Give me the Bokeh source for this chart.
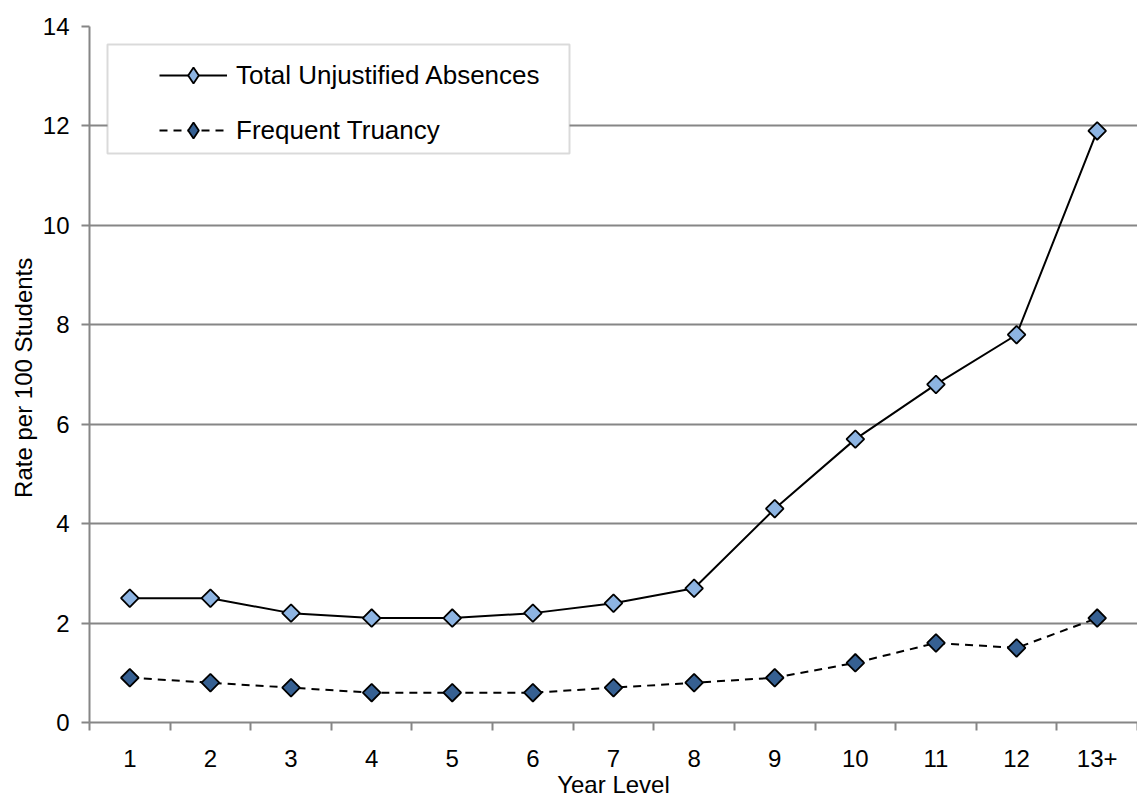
from bokeh.plotting import figure
from bokeh.models import (Range1d, FixedTicker, Legend, LegendItem, BoxAnnotation)
from bokeh.embed import file_html
from bokeh.resources import INLINE
import math

# ---- data ----
year_levels = ["1", "2", "3", "4", "5", "6", "7", "8", "9", "10", "11", "12", "13+"]
total_unjustified = [2.5, 2.5, 2.2, 2.1, 2.1, 2.2, 2.4, 2.7, 4.3, 5.7, 6.8, 7.8, 11.9]
frequent_truancy = [0.9, 0.8, 0.7, 0.6, 0.6, 0.6, 0.7, 0.8, 0.9, 1.2, 1.6, 1.5, 2.1]
y_ticks = [0, 2, 4, 6, 8, 10, 12, 14]
series_names = ["Total Unjustified Absences", "Frequent Truancy"]

x_pos = list(range(1, len(year_levels) + 1))

GRID = "#868686"
FONT = "Liberation Sans"
LIGHT = "#8DB4E2"
DARK = "#366092"

p = figure(width=1137, height=800, output_backend="svg", toolbar_location=None,
           x_range=Range1d(0.5, len(year_levels) + 0.5), y_range=Range1d(y_ticks[0], y_ticks[-1]),
           min_border_left=89, min_border_right=0, min_border_top=26, min_border_bottom=77)
p.outline_line_color = None
p.background_fill_color = "white"
p.border_fill_color = "white"

# axes
p.xaxis.ticker = FixedTicker(ticks=x_pos, minor_ticks=[i + 0.5 for i in range(0, len(year_levels) + 1)])
p.xaxis.major_label_overrides = {i: lab for i, lab in zip(x_pos, year_levels)}
p.xaxis.major_tick_out = 0
p.xaxis.major_tick_in = 0
p.xaxis.minor_tick_out = 8
p.xaxis.minor_tick_in = 0
p.xaxis.minor_tick_line_color = GRID
p.xaxis.minor_tick_line_width = 2
p.xaxis.axis_line_color = GRID
p.xaxis.axis_line_width = 2
p.xaxis.major_label_standoff = 19
p.xaxis.axis_label = "Year Level"
p.xaxis.axis_label_standoff = 1

p.yaxis.ticker = FixedTicker(ticks=y_ticks, minor_ticks=[])
p.yaxis.major_tick_out = 8
p.yaxis.major_tick_in = 0
p.yaxis.major_tick_line_color = GRID
p.yaxis.major_tick_line_width = 2
p.yaxis.axis_line_color = GRID
p.yaxis.axis_line_width = 2
p.yaxis.major_label_standoff = 12
p.yaxis.axis_label = "Rate per 100  Students"
p.yaxis.axis_label_standoff = 3

for ax in (p.xaxis, p.yaxis):
    ax.major_label_text_font = FONT
    ax.major_label_text_font_size = "24px"
    ax.major_label_text_color = "black"
    ax.axis_label_text_font = FONT
    ax.axis_label_text_font_size = "24px"
    ax.axis_label_text_font_style = "normal"
    ax.axis_label_text_color = "black"

p.xgrid.grid_line_color = None
p.ygrid.grid_line_color = GRID
p.ygrid.grid_line_width = 2
p.ygrid.ticker = FixedTicker(ticks=y_ticks)

# series
l1 = p.line(x_pos, total_unjustified, line_color="black", line_width=2)
s1 = p.scatter(x_pos, total_unjustified, marker="square", size=12.5, angle=math.pi / 4,
               fill_color=LIGHT, line_color="black", line_width=1.8)
l2 = p.line(x_pos, frequent_truancy, line_color="black", line_width=2, line_dash="8 6")
s2 = p.scatter(x_pos, frequent_truancy, marker="square", size=12.5, angle=math.pi / 4,
               fill_color=DARK, line_color="black", line_width=1.8)

# legend-only diamond swatches (a single NaN point, so nothing is drawn in the plot)
nan = float("nan")
d1 = p.scatter(x=[nan], y=[nan], marker="diamond", fill_color=LIGHT, line_color="black", line_width=1.8)
d2 = p.scatter(x=[nan], y=[nan], marker="diamond", fill_color=DARK, line_color="black", line_width=1.8)

# legend frame
box = BoxAnnotation(left=18, right=480, bottom=569, top=678,
                    left_units="screen", right_units="screen", bottom_units="screen", top_units="screen",
                    fill_color="white", fill_alpha=1.0, line_color=GRID, line_width=2, level="overlay")
p.add_layout(box)

legend = Legend(items=[LegendItem(label=series_names[0], renderers=[l1, d1]),
                       LegendItem(label=series_names[1], renderers=[l2, d2])],
                location=(70, 572), padding=0, margin=0, spacing=15,
                glyph_width=68, glyph_height=40, label_standoff=9,
                label_text_font=FONT, label_text_font_size="26px", label_text_color="black",
                border_line_alpha=0, background_fill_alpha=0)
p.add_layout(legend, "center")

open("out.html", "w").write(file_html(p, INLINE))
